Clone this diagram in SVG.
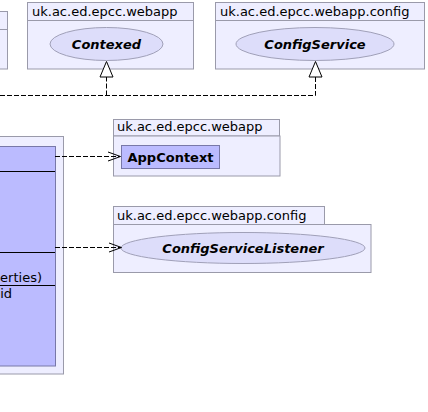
<svg xmlns="http://www.w3.org/2000/svg" width="428" height="412" viewBox="0 0 428 412">
<style>
.pkg{fill:#eeeeff;stroke:#9a9aaa;stroke-width:1}
.cls{fill:#bbbbff;stroke:#7878a8;stroke-width:1}
.ell{fill:#ddddfa;stroke:#a0a0b8;stroke-width:1}
.hdr{font-family:"DejaVu Sans",sans-serif;font-size:13px;fill:#000}
.bold{font-family:"DejaVu Sans",sans-serif;font-size:13px;font-weight:bold;fill:#000}
.bi{font-family:"DejaVu Sans",sans-serif;font-size:13px;font-weight:bold;font-style:italic;fill:#000}
.txt{font-family:"DejaVu Sans",sans-serif;font-size:13px;fill:#000}
.dash{fill:none;stroke:#000;stroke-width:1;stroke-dasharray:5,2}
.head{fill:none;stroke:#000;stroke-width:1}
.tri{fill:#fff;stroke:#000;stroke-width:1}
.sep{stroke:#000;stroke-width:1}
</style>
<rect width="428" height="412" fill="#fff"/>
<g id="left-top-pkg">
<rect class="pkg" x="-10" y="11.5" width="17.5" height="57.5"/>
<line x1="-10" y1="29.5" x2="7.5" y2="29.5" stroke="#9a9aaa"/>
</g>
<g id="pkg-contexed">
<rect class="pkg" x="27.5" y="2.5" width="166" height="18"/>
<rect class="pkg" x="27.5" y="20.5" width="166" height="48.5"/>
<text class="hdr" x="32" y="16">uk.ac.ed.epcc.webapp</text>
<ellipse class="ell" cx="106.5" cy="44" rx="56.5" ry="16.5"/>
<text class="bi" x="106.5" y="48.5" text-anchor="middle">Contexed</text>
</g>
<g id="pkg-configservice">
<rect class="pkg" x="215.5" y="2.5" width="209" height="18"/>
<rect class="pkg" x="215.5" y="20.5" width="209" height="48.5"/>
<text class="hdr" x="220" y="16">uk.ac.ed.epcc.webapp.config</text>
<ellipse class="ell" cx="315" cy="44" rx="79" ry="16.5"/>
<text class="bi" x="315" y="48.5" text-anchor="middle">ConfigService</text>
</g>
<g id="left-class">
<rect class="pkg" x="-10" y="136.5" width="73.5" height="237.5"/>
<rect class="cls" x="-10" y="146.5" width="65.5" height="219.5"/>
<line class="sep" x1="0" y1="171.5" x2="55" y2="171.5"/>
<line class="sep" x1="0" y1="252.5" x2="55" y2="252.5"/>
<line class="sep" x1="0" y1="285.5" x2="55" y2="285.5"/>
<text class="txt" x="42" y="282" text-anchor="end">erties)</text>
<text class="txt" x="12" y="298" text-anchor="end">oid</text>
</g>
<g id="pkg-appcontext">
<rect class="pkg" x="113.5" y="119.5" width="166" height="16.5"/>
<rect class="pkg" x="113.5" y="136" width="166.5" height="40"/>
<text class="hdr" x="117" y="131">uk.ac.ed.epcc.webapp</text>
<rect class="cls" x="121.5" y="145.5" width="98" height="23"/>
<text class="bold" x="170.5" y="161.5" text-anchor="middle">AppContext</text>
</g>
<g id="pkg-listener">
<rect class="pkg" x="113.5" y="206.5" width="211" height="18"/>
<rect class="pkg" x="113.5" y="224.5" width="257.5" height="48"/>
<text class="hdr" x="117" y="220">uk.ac.ed.epcc.webapp.config</text>
<ellipse class="ell" cx="243" cy="248" rx="122" ry="15.5"/>
<text class="bi" x="243" y="252.5" text-anchor="middle">ConfigServiceListener</text>
</g>
<g id="connectors">
<path class="dash" d="M0,95.5 H315.5 V77"/>
<path class="dash" d="M106.5,95.5 V77"/>
<polygon class="tri" points="106.5,61.5 100,77 113,77"/>
<polygon class="tri" points="315.5,61.5 309,77 322,77"/>
<path class="dash" d="M55,156.5 H120"/>
<path class="head" d="M108,152 L120.5,156.5 L108,161"/>
<path class="dash" d="M55,247.5 H121"/>
<path class="head" d="M109,243 L121.5,247.5 L109,252"/>
</g>
</svg>
